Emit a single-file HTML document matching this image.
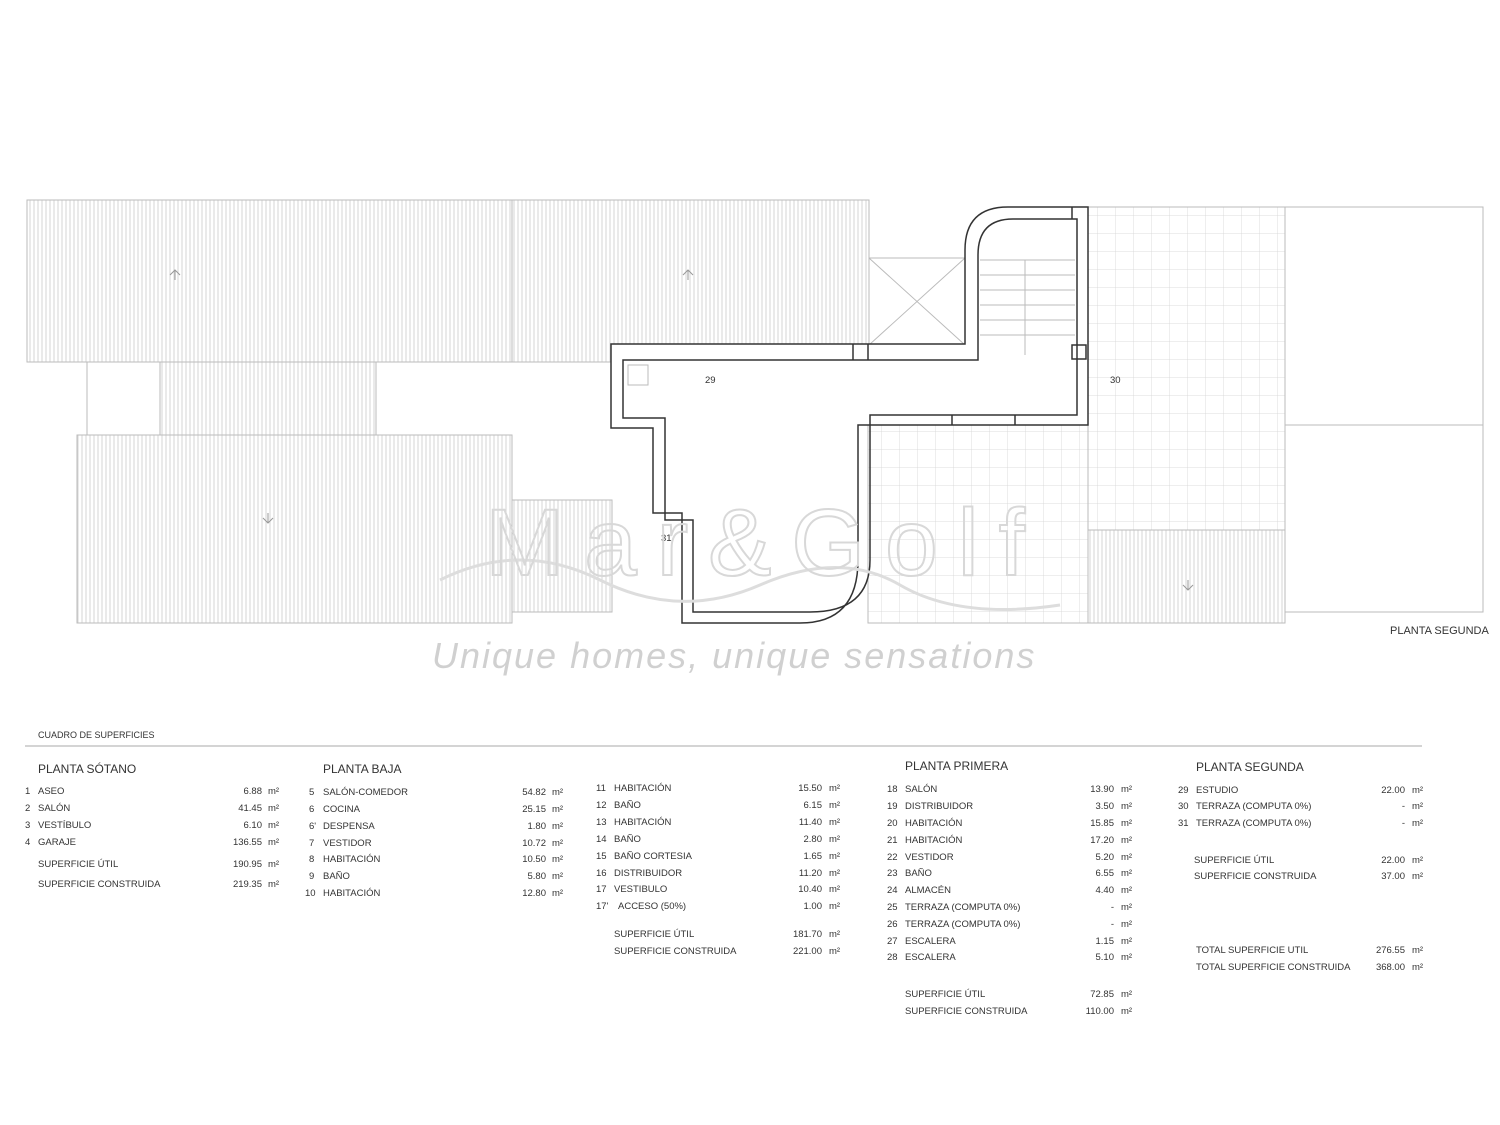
<!DOCTYPE html>
<html><head><meta charset="utf-8"><style>
html,body{margin:0;padding:0;background:#fff}
svg{display:block}
text{font-family:"Liberation Sans",sans-serif;fill:#333;font-size:9.5px}
.h{font-size:12px;fill:#333}
.r{text-anchor:end}
</style></head><body>
<svg width="1500" height="1125" viewBox="0 0 1500 1125">
<defs>
<pattern id="vh" width="4" height="10" patternUnits="userSpaceOnUse"><rect width="4" height="10" fill="#fff"/><line x1="2" y1="0" x2="2" y2="10" stroke="#ccc" stroke-width="0.8"/></pattern>
<pattern id="gr" width="18" height="18" patternUnits="userSpaceOnUse"><rect width="18" height="18" fill="#fff"/><path d="M18 0V18M0 18H18" stroke="#d4d4d4" stroke-width="0.8" fill="none"/></pattern>
</defs>
<g stroke="#bbb" stroke-width="1">
<rect x="27" y="200" width="485" height="162" fill="url(#vh)"/>
<rect x="512" y="200" width="357" height="162" fill="url(#vh)"/>
<rect x="87" y="362" width="73" height="73" fill="#fff"/>
<rect x="160" y="362" width="216" height="73" fill="url(#vh)"/>
<rect x="77" y="435" width="435" height="188" fill="url(#vh)"/>
<rect x="512" y="500" width="100" height="112" fill="url(#vh)"/>
<rect x="869" y="258" width="96" height="87" fill="#fff"/>
<path d="M869 258L965 345M965 258L869 345" fill="none"/>
<rect x="1088" y="207" width="197" height="323" fill="url(#gr)"/>
<rect x="868" y="420" width="220" height="203" fill="url(#gr)"/>
<rect x="1088" y="530" width="197" height="93" fill="url(#vh)"/>
<rect x="1285" y="207" width="198" height="218" fill="#fff"/>
<rect x="1285" y="425" width="198" height="187" fill="#fff"/>
<path d="M175 280v-10m-5 5l5-5 5 5M688 280v-10m-5 5l5-5 5 5M268 513v10m-5-5l5 5 5-5M1188 580v10m-5-5l5 5 5-5" fill="none" stroke="#999"/>
</g>
<g fill="none" stroke="#333" stroke-width="1.5">
<path d="M611 344L965 344L965 250Q965 207 1008 207L1088 207L1088 425L858 425L858 560Q858 623 800 623L682 623L682 513L653 513L653 428L611 428Z" fill="#fff"/>
<path d="M623 360L978 360L978 255Q978 219 1013 219L1077 219L1077 415L870 415L870 560Q870 612 810 612L693 612L693 520L665 520L665 418L623 418Z"/>
<path d="M853 344V360M868 344V360M1072 207V219M952 415V425M1015 415V425"/>
<rect x="1072" y="345" width="14" height="14"/>
</g>
<path d="M980 260H1075M980 275H1075M980 290H1075M980 305H1075M980 320H1075M980 335H1075M1025 260V355" fill="none" stroke="#bbb"/>
<rect x="628" y="365" width="20" height="20" fill="none" stroke="#bbb"/>
<text x="705" y="383">29</text><text x="1110" y="383">30</text><text x="661" y="541">31</text>
<g fill="none" stroke="#ddd" stroke-width="3">
<path d="M440 580Q520 540 600 580T760 585T900 585T1060 605"/>
</g>
<text x="485" y="575" textLength="540" style="font-size:95px;fill:none;stroke:#d8d8d8;stroke-width:2;font-family:'Liberation Sans',sans-serif">Mar&amp;Golf</text>
<text x="432" y="668" style="font-size:36px;fill:#d0d0d0;font-style:italic;letter-spacing:2px">Unique homes, unique sensations</text>
<text x="1390" y="634" style="font-size:11px">PLANTA SEGUNDA</text>
<text x="38" y="738" style="font-size:9px">CUADRO DE SUPERFICIES</text>
<line x1="25" y1="746" x2="1422" y2="746" stroke="#aaa"/>
<text class="h" x="38" y="773">PLANTA SÓTANO</text>
<text class="h" x="323" y="773">PLANTA BAJA</text>
<text class="h" x="905" y="770">PLANTA PRIMERA</text>
<text class="h" x="1196" y="771">PLANTA SEGUNDA</text>
<g>
<text x="25" y="794">1</text><text x="38" y="794">ASEO</text><text class="r" x="262" y="794">6.88</text><text x="268" y="794">m²</text>
<text x="25" y="811">2</text><text x="38" y="811">SALÓN</text><text class="r" x="262" y="811">41.45</text><text x="268" y="811">m²</text>
<text x="25" y="828">3</text><text x="38" y="828">VESTÍBULO</text><text class="r" x="262" y="828">6.10</text><text x="268" y="828">m²</text>
<text x="25" y="845">4</text><text x="38" y="845">GARAJE</text><text class="r" x="262" y="845">136.55</text><text x="268" y="845">m²</text>
<text x="38" y="867">SUPERFICIE ÚTIL</text><text class="r" x="262" y="867">190.95</text><text x="268" y="867">m²</text>
<text x="38" y="887">SUPERFICIE CONSTRUIDA</text><text class="r" x="262" y="887">219.35</text><text x="268" y="887">m²</text>
</g>
<g>
<text x="309" y="795">5</text><text x="323" y="795">SALÓN-COMEDOR</text><text class="r" x="546" y="795">54.82</text><text x="552" y="795">m²</text>
<text x="309" y="812">6</text><text x="323" y="812">COCINA</text><text class="r" x="546" y="812">25.15</text><text x="552" y="812">m²</text>
<text x="309" y="829">6'</text><text x="323" y="829">DESPENSA</text><text class="r" x="546" y="829">1.80</text><text x="552" y="829">m²</text>
<text x="309" y="846">7</text><text x="323" y="846">VESTIDOR</text><text class="r" x="546" y="846">10.72</text><text x="552" y="846">m²</text>
<text x="309" y="862">8</text><text x="323" y="862">HABITACIÓN</text><text class="r" x="546" y="862">10.50</text><text x="552" y="862">m²</text>
<text x="309" y="879">9</text><text x="323" y="879">BAÑO</text><text class="r" x="546" y="879">5.80</text><text x="552" y="879">m²</text>
<text x="305" y="896">10</text><text x="323" y="896">HABITACIÓN</text><text class="r" x="546" y="896">12.80</text><text x="552" y="896">m²</text>
</g>
<g>
<text x="596" y="791">11</text><text x="614" y="791">HABITACIÓN</text><text class="r" x="822" y="791">15.50</text><text x="829" y="791">m²</text>
<text x="596" y="808">12</text><text x="614" y="808">BAÑO</text><text class="r" x="822" y="808">6.15</text><text x="829" y="808">m²</text>
<text x="596" y="825">13</text><text x="614" y="825">HABITACIÓN</text><text class="r" x="822" y="825">11.40</text><text x="829" y="825">m²</text>
<text x="596" y="842">14</text><text x="614" y="842">BAÑO</text><text class="r" x="822" y="842">2.80</text><text x="829" y="842">m²</text>
<text x="596" y="859">15</text><text x="614" y="859">BAÑO CORTESIA</text><text class="r" x="822" y="859">1.65</text><text x="829" y="859">m²</text>
<text x="596" y="876">16</text><text x="614" y="876">DISTRIBUIDOR</text><text class="r" x="822" y="876">11.20</text><text x="829" y="876">m²</text>
<text x="596" y="892">17</text><text x="614" y="892">VESTIBULO</text><text class="r" x="822" y="892">10.40</text><text x="829" y="892">m²</text>
<text x="596" y="909">17'</text><text x="618" y="909">ACCESO (50%)</text><text class="r" x="822" y="909">1.00</text><text x="829" y="909">m²</text>
<text x="614" y="937">SUPERFICIE ÚTIL</text><text class="r" x="822" y="937">181.70</text><text x="829" y="937">m²</text>
<text x="614" y="954">SUPERFICIE CONSTRUIDA</text><text class="r" x="822" y="954">221.00</text><text x="829" y="954">m²</text>
</g>
<g>
<text x="887" y="792">18</text><text x="905" y="792">SALÓN</text><text class="r" x="1114" y="792">13.90</text><text x="1121" y="792">m²</text>
<text x="887" y="809">19</text><text x="905" y="809">DISTRIBUIDOR</text><text class="r" x="1114" y="809">3.50</text><text x="1121" y="809">m²</text>
<text x="887" y="826">20</text><text x="905" y="826">HABITACIÓN</text><text class="r" x="1114" y="826">15.85</text><text x="1121" y="826">m²</text>
<text x="887" y="843">21</text><text x="905" y="843">HABITACIÓN</text><text class="r" x="1114" y="843">17.20</text><text x="1121" y="843">m²</text>
<text x="887" y="860">22</text><text x="905" y="860">VESTIDOR</text><text class="r" x="1114" y="860">5.20</text><text x="1121" y="860">m²</text>
<text x="887" y="876">23</text><text x="905" y="876">BAÑO</text><text class="r" x="1114" y="876">6.55</text><text x="1121" y="876">m²</text>
<text x="887" y="893">24</text><text x="905" y="893">ALMACÉN</text><text class="r" x="1114" y="893">4.40</text><text x="1121" y="893">m²</text>
<text x="887" y="910">25</text><text x="905" y="910">TERRAZA (COMPUTA 0%)</text><text class="r" x="1114" y="910">-</text><text x="1121" y="910">m²</text>
<text x="887" y="927">26</text><text x="905" y="927">TERRAZA (COMPUTA 0%)</text><text class="r" x="1114" y="927">-</text><text x="1121" y="927">m²</text>
<text x="887" y="944">27</text><text x="905" y="944">ESCALERA</text><text class="r" x="1114" y="944">1.15</text><text x="1121" y="944">m²</text>
<text x="887" y="960">28</text><text x="905" y="960">ESCALERA</text><text class="r" x="1114" y="960">5.10</text><text x="1121" y="960">m²</text>
<text x="905" y="997">SUPERFICIE ÚTIL</text><text class="r" x="1114" y="997">72.85</text><text x="1121" y="997">m²</text>
<text x="905" y="1014">SUPERFICIE CONSTRUIDA</text><text class="r" x="1114" y="1014">110.00</text><text x="1121" y="1014">m²</text>
</g>
<g>
<text x="1178" y="793">29</text><text x="1196" y="793">ESTUDIO</text><text class="r" x="1405" y="793">22.00</text><text x="1412" y="793">m²</text>
<text x="1178" y="809">30</text><text x="1196" y="809">TERRAZA (COMPUTA 0%)</text><text class="r" x="1405" y="809">-</text><text x="1412" y="809">m²</text>
<text x="1178" y="826">31</text><text x="1196" y="826">TERRAZA (COMPUTA 0%)</text><text class="r" x="1405" y="826">-</text><text x="1412" y="826">m²</text>
<text x="1194" y="863">SUPERFICIE ÚTIL</text><text class="r" x="1405" y="863">22.00</text><text x="1412" y="863">m²</text>
<text x="1194" y="879">SUPERFICIE CONSTRUIDA</text><text class="r" x="1405" y="879">37.00</text><text x="1412" y="879">m²</text>
<text x="1196" y="953">TOTAL SUPERFICIE UTIL</text><text class="r" x="1405" y="953">276.55</text><text x="1412" y="953">m²</text>
<text x="1196" y="970">TOTAL SUPERFICIE CONSTRUIDA</text><text class="r" x="1405" y="970">368.00</text><text x="1412" y="970">m²</text>
</g>
</svg>
</body></html>
